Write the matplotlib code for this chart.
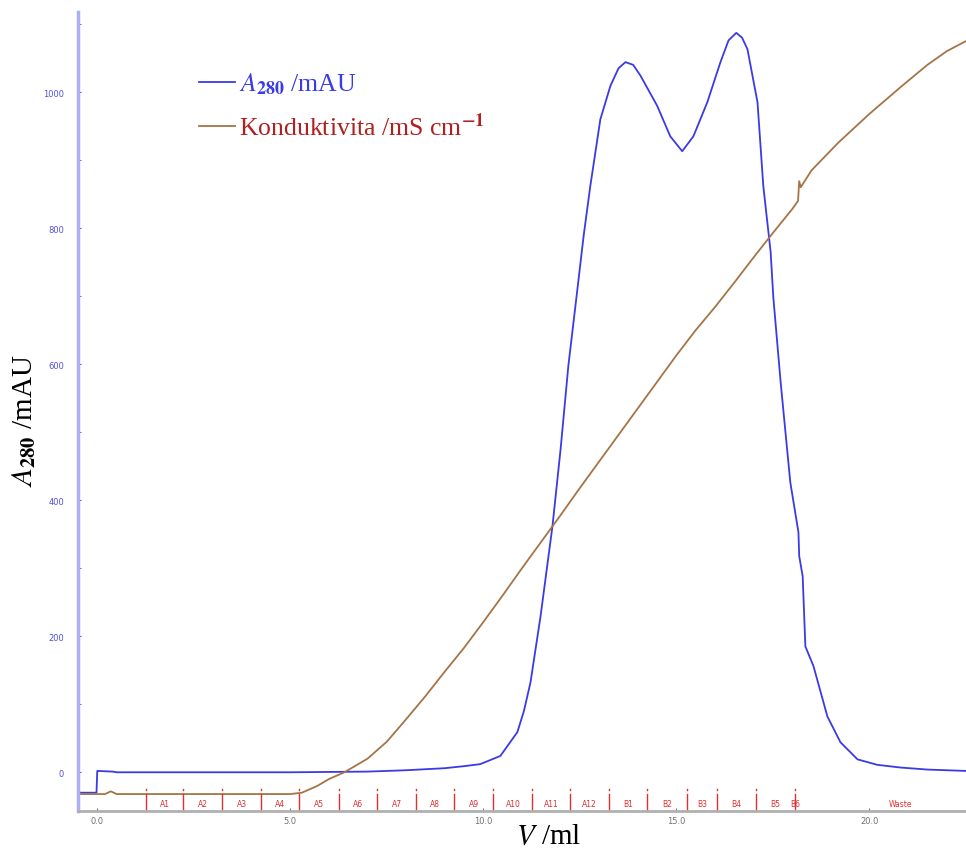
import numpy as np
import matplotlib.pyplot as plt
from matplotlib import transforms

# elution volume (ml) and absorbance A280 (mAU)
uv_ml = [-0.5, -0.02, 0.0, 0.4, 0.5, 5.0, 7.0, 8.0, 9.0, 9.5, 9.92, 10.44, 10.88,
         11.05, 11.22, 11.48, 11.79, 12.0, 12.2, 12.41, 12.6, 12.77, 13.03, 13.29,
         13.5, 13.68, 13.88, 14.07, 14.5, 14.84, 15.15, 15.44, 15.8, 16.14, 16.35,
         16.55, 16.7, 16.84, 17.1, 17.25, 17.44, 17.51, 17.7, 17.95, 18.16, 18.18,
         18.27, 18.34, 18.55, 18.91, 19.25, 19.69, 20.2, 20.8, 21.5, 22.5]
uv_mau = [-30, -30, 2, 1, 0, 0, 1, 3, 6, 9, 12, 24, 59,
          90, 132, 229, 362, 475, 597, 698, 790, 862, 960, 1009,
          1035, 1044, 1040, 1024, 980, 935, 913, 935, 985, 1044, 1076,
          1087, 1080, 1063, 985, 862, 765, 698, 573, 426, 353, 318,
          288, 185, 156, 82, 44, 19, 11, 7, 4, 2]

# conductivity trace (drawn on the same scale)
cond_ml = [-0.5, 0.2, 0.35, 0.5, 5.0, 5.3, 5.7, 6.0, 6.4, 7.0, 7.5, 8.0, 8.5,
           9.0, 9.5, 10.0, 10.5, 11.0, 11.5, 12.0, 12.5, 13.0, 13.5, 14.0, 14.5,
           15.0, 15.5, 16.0, 16.5, 17.0, 17.5, 18.0, 18.15, 18.18, 18.22, 18.5,
           19.2, 20.0, 20.8, 21.5, 22.0, 22.5]
cond_val = [-32, -32, -28, -32, -32, -30, -20, -10, 0, 20, 45, 78, 112,
            148, 183, 221, 260, 300, 339, 378, 418, 457, 496, 535, 574,
            613, 650, 684, 720, 757, 793, 828, 840, 869, 860, 885,
            926, 968, 1007, 1040, 1060, 1075]

# fraction collector marks
frac_pos = [1.27, 2.23, 3.24, 4.25, 5.23, 6.27, 7.25, 8.26, 9.25, 10.26, 11.27,
            12.25, 13.26, 14.25, 15.28, 16.06, 17.05, 18.08]
frac_names = ['A1', 'A2', 'A3', 'A4', 'A5', 'A6', 'A7', 'A8', 'A9', 'A10', 'A11',
              'A12', 'B1', 'B2', 'B3', 'B4', 'B5']

plt.rcParams['mathtext.fontset'] = 'stix'
serif = 'Liberation Serif'

fig = plt.figure(figsize=(9.66, 8.53), dpi=100)
ax = fig.add_axes([0.0807, 0.048, 0.9193, 0.937])

blue = '#3a3ae6'
brown = '#a57446'
ax.plot(uv_ml, uv_mau, color=blue, lw=1.3, label=r'$\mathit{A}_{\mathbf{280}}$ /mAU')
ax.plot(cond_ml, cond_val, color=brown, lw=1.3, label=r'Konduktivita /mS cm$^{\mathbf{-1}}$')

ax.set_xlim(-0.5, 22.5)
ax.set_ylim(-57, 1118)

for s in ['top', 'right']:
    ax.spines[s].set_visible(False)
ax.spines['left'].set_color('#aab0f2')
ax.spines['left'].set_linewidth(2.5)
ax.spines['bottom'].set_color('#b0b0b0')
ax.spines['bottom'].set_linewidth(2)

ax.set_yticks([0, 200, 400, 600, 800, 1000])
ax.set_yticks([100, 300, 500, 700, 900, 1100], minor=True)
ax.tick_params(axis='y', which='both', colors='#5050e0', labelsize=6, length=2,
               direction='in', pad=10)
ax.set_xticks([0, 5, 10, 15, 20])
ax.set_xticklabels(['0.0', '5.0', '10.0', '15.0', '20.0'])
ax.tick_params(axis='x', colors='#707070', labelsize=6, length=2, direction='in')

# fraction marks
trans = transforms.blended_transform_factory(ax.transData, ax.transAxes)
red = '#e03030'
for p in frac_pos:
    ax.plot([p, p], [0, 0.021], color=red, lw=1, transform=trans)
    ax.plot([p, p], [0.026, 0.028], color=red, lw=1, transform=trans)
mids = [(a + b) / 2 for a, b in zip(frac_pos[:-1], frac_pos[1:])]
for m, n in zip(mids, frac_names):
    ax.text(m, 0.009, n, color=red, fontsize=5.5, ha='center', va='center', transform=trans)
ax.text(frac_pos[-1], 0.009, 'B6', color=red, fontsize=5.5, ha='center', va='center',
        transform=trans)
ax.text(20.8, 0.009, 'Waste', color=red, fontsize=5.5, ha='center', va='center', transform=trans)

ax.set_ylabel(r'$\mathit{A}_{\mathbf{280}}$ /mAU', fontsize=21, family=serif)
ax.set_xlabel(r'$\mathit{V}$ /ml', fontsize=21, family=serif)
ax.yaxis.set_label_coords(-0.045, 0.49)
ax.xaxis.set_label_coords(0.53, -0.015)

ax.legend(loc='upper left', bbox_to_anchor=(0.11, 0.955), frameon=False,
          prop={'family': serif, 'size': 18.5}, labelcolor=[blue, '#b02020'],
          handlelength=1.4, handletextpad=0.15, labelspacing=0.6)

fig.savefig('out.png', dpi=100)
